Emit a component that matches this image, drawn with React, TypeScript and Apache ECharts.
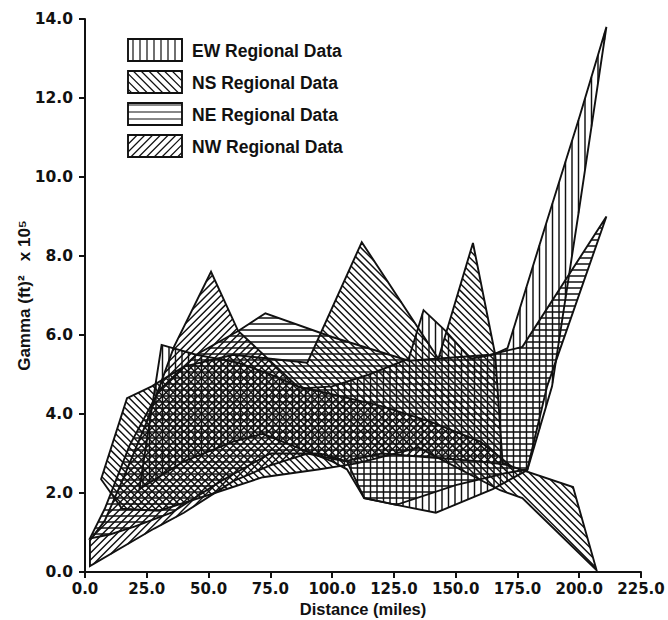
import React, { useEffect, useRef } from 'react';
import * as echarts from 'echarts';

type Pt = [number, number];

// Axis ticks
const xTickValues = [0, 25, 50, 75, 100, 125, 150, 175, 200, 225];
const yTickValues = [0, 2, 4, 6, 8, 10, 12, 14];

// Band boundaries: [distance (miles), gamma]
const ewUpper: Pt[] = [[22, 2.1], [31, 5.75], [45, 5.5], [62, 5.3], [75, 5.0], [88, 4.65], [100, 4.7], [115, 5.0], [131, 5.4], [137, 6.63], [146, 6.1], [156, 5.4], [165, 5.5], [171, 5.67], [187, 8.9], [200, 11.5], [211, 13.8]];
const ewLower: Pt[] = [[22, 2.1], [40, 2.8], [60, 3.3], [72, 3.5], [88, 3.1], [100, 2.8], [106, 2.6], [113, 1.87], [126, 1.7], [142, 1.5], [165, 2.1], [179, 2.58], [189, 4.7], [200, 9.2], [211, 13.8]];

const nsUpper: Pt[] = [[6.5, 2.35], [17, 4.4], [27, 4.7], [40, 5.2], [60, 5.5], [75, 5.4], [90, 5.3], [112, 8.35], [143, 5.4], [157, 8.33], [166, 5.5], [169, 2.75], [197.5, 2.15], [207, 0.05]];
const nsLower: Pt[] = [[6.5, 2.35], [15, 1.6], [30, 1.55], [50, 1.95], [72, 2.4], [95, 2.6], [110, 2.75], [135, 3.15], [168, 2.07], [177, 1.87], [207, 0.05]];

const neUpper: Pt[] = [[2, 0.85], [8, 1.6], [18, 3.2], [30, 4.6], [45, 5.5], [62, 6.1], [73, 6.55], [100, 5.95], [131, 5.35], [164, 5.5], [177, 5.7], [211, 9.0]];
const neLower: Pt[] = [[2, 0.85], [10, 0.95], [20, 1.15], [35, 1.5], [55, 2.3], [75, 3.0], [95, 3.0], [106, 2.8], [113, 1.87], [126, 1.7], [150, 2.2], [170, 2.5], [179, 2.6], [187, 4.7], [211, 9.0]];

const nwUpper: Pt[] = [[2, 0.8], [8, 1.3], [15, 2.3], [25, 3.8], [36, 5.7], [51, 7.6], [62, 6.1], [86, 4.7], [100, 4.5], [120, 4.2], [140, 3.8], [160, 3.3], [172, 2.7]];
const nwLower: Pt[] = [[2, 0.15], [28, 1.1], [40, 1.5], [60, 2.3], [75, 2.7], [90, 3.0], [105, 2.8], [120, 3.0], [140, 2.9], [160, 2.8], [172, 2.7]];

const bandNames = ['EW Regional Data', 'NS Regional Data', 'NE Regional Data', 'NW Regional Data'];
const bandUppers = [ewUpper, nsUpper, neUpper, nwUpper];
const bandLowers = [ewLower, nsLower, neLower, nwLower];
// hatch angle (screen degrees) and spacing (px)
const hatchAngles = [90, 45, 0, -45];
const hatchSpacing = [6.5, 5, 6, 5];

function hatchSegments(poly: Pt[], angleDeg: number, spacing: number): number[] {
  const a = (angleDeg * Math.PI) / 180;
  const dx = Math.cos(a), dy = Math.sin(a);
  const nx = -dy, ny = dx;
  const s = poly.map((p) => p[0] * nx + p[1] * ny);
  const smin = Math.min(...s), smax = Math.max(...s);
  const out: number[] = [];
  for (let c = Math.ceil(smin / spacing) * spacing; c <= smax; c += spacing) {
    const hits: { u: number; x: number; y: number }[] = [];
    for (let i = 0; i < poly.length; i++) {
      const j = (i + 1) % poly.length;
      const si = s[i], sj = s[j];
      if ((si <= c) !== (sj <= c)) {
        const t = (c - si) / (sj - si);
        const x = poly[i][0] + t * (poly[j][0] - poly[i][0]);
        const y = poly[i][1] + t * (poly[j][1] - poly[i][1]);
        hits.push({ u: x * dx + y * dy, x, y });
      }
    }
    hits.sort((p, q) => p.u - q.u);
    for (let k = 0; k + 1 < hits.length; k += 2) {
      out.push(hits[k].x, hits[k].y, hits[k + 1].x, hits[k + 1].y);
    }
  }
  return out;
}

let registered = false;
function registerHatch() {
  if (registered) return;
  const HatchShape = (echarts.graphic as any).extendShape({
    shape: { segs: [] as number[] },
    buildPath(ctx: any, shape: any) {
      const s = shape.segs || [];
      for (let i = 0; i + 3 < s.length; i += 4) {
        ctx.moveTo(s[i], s[i + 1]);
        ctx.lineTo(s[i + 2], s[i + 3]);
      }
    },
  });
  (echarts.graphic as any).registerShape('hatch', HatchShape);
  registered = true;
}

const INK = '#111111';
const FONT = '"Liberation Sans", Arial, Helvetica, sans-serif';
const TICKFONT = '"DejaVu Sans", "Liberation Sans", sans-serif';

export default function App() {
  const ref = useRef<HTMLDivElement>(null);
  useEffect(() => {
    document.body.style.margin = '0';
    registerHatch();
    if (!ref.current) return;
    const chart = echarts.init(ref.current, null, { renderer: 'svg' });

    const polyOf = (i: number, api: any): Pt[] =>
      [...bandUppers[i], ...bandLowers[i].slice().reverse()].map((p) => api.coord(p) as Pt);

    const hatchSeries = bandNames.map((name, i) => ({
      type: 'custom',
      name,
      data: [[0, 0]],
      z: 2,
      renderItem: (_p: any, api: any) => {
        const pts = polyOf(i, api);
        return {
          type: 'hatch',
          shape: { segs: hatchSegments(pts, hatchAngles[i], hatchSpacing[i]) },
          style: { stroke: INK, lineWidth: 1.45, fill: null },
        };
      },
    }));
    const outlineSeries = bandNames.map((name, i) => ({
      type: 'custom',
      name: name + ' outline',
      data: [[0, 0]],
      z: 3,
      renderItem: (_p: any, api: any) => {
        const pts = polyOf(i, api);
        return {
          type: 'polygon',
          shape: { points: pts },
          style: { fill: 'none', stroke: INK, lineWidth: 1.9, lineJoin: 'miter' },
        };
      },
    }));

    // legend drawn as graphics
    const legendX = 128, legendY = 39, boxW = 54, boxH = 22, gap = 32;
    const legendEls: any[] = [];
    bandNames.forEach((name, i) => {
      const y0 = legendY + i * gap;
      const rectPoly: Pt[] = [[legendX, y0], [legendX + boxW, y0], [legendX + boxW, y0 + boxH], [legendX, y0 + boxH]];
      legendEls.push({
        type: 'rect',
        shape: { x: legendX, y: y0, width: boxW, height: boxH },
        style: { fill: '#fff', stroke: INK, lineWidth: 1.9 },
        z: 10,
      });
      legendEls.push({
        type: 'hatch',
        shape: { segs: hatchSegments(rectPoly, hatchAngles[i], i === 2 ? 7 : hatchSpacing[i] + 0.5) },
        style: { stroke: INK, lineWidth: 1.2, fill: null },
        z: 11,
      });
      legendEls.push({
        type: 'text',
        x: legendX + boxW + 10,
        y: y0 + boxH / 2 + 1,
        style: { text: name, font: `bold 17.5px ${FONT}`, fill: INK, verticalAlign: 'middle', align: 'left' },
        z: 11,
      });
    });

    chart.setOption({
      animation: false,
      backgroundColor: '#fff',
      grid: { left: 85, right: 27, top: 19, bottom: 48, containLabel: false, outerBoundsMode: 'none' },
      xAxis: {
        type: 'value',
        min: xTickValues[0],
        max: xTickValues[xTickValues.length - 1],
        interval: 25,
        name: 'Distance (miles)',
        nameLocation: 'middle',
        nameGap: 28,
        nameMoveOverlap: false,
        nameTextStyle: { fontFamily: FONT, fontWeight: 'bold', fontSize: 16.5, color: INK },
        axisLine: { lineStyle: { color: INK, width: 2 } },
        axisTick: { length: 6, lineStyle: { color: INK, width: 2 } },
        axisLabel: { formatter: (v: number) => v.toFixed(1), fontFamily: TICKFONT, fontWeight: 'bold', fontSize: 15, color: INK, margin: 9 },
        splitLine: { show: false },
      },
      yAxis: {
        type: 'value',
        min: yTickValues[0],
        max: yTickValues[yTickValues.length - 1],
        interval: 2,
        name: 'Gamma (ft)\u00B2   x 10\u2075',
        nameLocation: 'middle',
        nameGap: 52,
        nameMoveOverlap: false,
        nameRotate: 90,
        nameTextStyle: { fontFamily: FONT, fontWeight: 'bold', fontSize: 17, color: INK },
        axisLine: { lineStyle: { color: INK, width: 2 } },
        axisTick: { length: 6, lineStyle: { color: INK, width: 2 } },
        axisLabel: { formatter: (v: number) => v.toFixed(1), fontFamily: TICKFONT, fontWeight: 'bold', fontSize: 15.5, color: INK, margin: 12 },
        splitLine: { show: false },
      },
      graphic: legendEls,
      series: [...hatchSeries, ...outlineSeries],
    } as any);
    return () => chart.dispose();
  }, []);
  return <div ref={ref} style={{ width: 668, height: 620 }} />;
}
